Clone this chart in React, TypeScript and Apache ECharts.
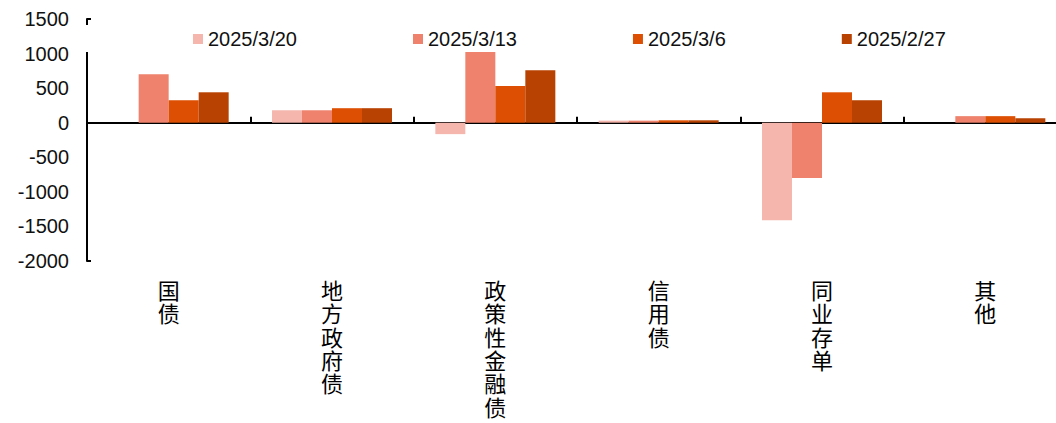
import React, { useEffect, useRef } from "react";
import * as echarts from "echarts";

const categories = ["国债", "地方政府债", "政策性金融债", "信用债", "同业存单", "其他"];
const seriesNames = ["2025/3/20", "2025/3/13", "2025/3/6", "2025/2/27"];
const s0320 = [0, 180, -165, 30, -1410, 0];
const s0313 = [700, 180, 1060, 30, -800, 95];
const s0306 = [325, 210, 530, 35, 440, 95];
const s0227 = [440, 210, 760, 35, 325, 65];
const seriesColors = ["#F4B6AD", "#EE826D", "#DD5003", "#B84202"];
const yTicks = [-2000, -1500, -1000, -500, 0, 500, 1000, 1500];

const FONT = '"Liberation Sans", Arial, "Noto Sans CJK SC", sans-serif';

export default function App() {
  const ref = useRef<HTMLDivElement>(null);
  useEffect(() => {
    if (!ref.current) return;
    const chart = echarts.init(ref.current, null, { renderer: "svg" });
    const data = [s0320, s0313, s0306, s0227];
    chart.setOption({
      animation: false,
      textStyle: { fontFamily: FONT },
      grid: { left: 87, right: -11, top: 19, bottom: 162, containLabel: false, outerBoundsMode: "none" },
      legend: {
        data: seriesNames,
        left: 82,
        top: 25,
        padding: [4, 60, 3, 111],
        backgroundColor: "#ffffff",
        itemWidth: 10,
        itemHeight: 10,
        itemGap: 116,
        icon: "rect",
        textStyle: { fontSize: 20, color: "#111", fontFamily: FONT, lineHeight: 20 },
        z: 10,
      },
      xAxis: {
        type: "category",
        data: categories,
        axisLine: { onZero: true, lineStyle: { color: "#000", width: 2 } },
        axisTick: { show: true, inside: true, length: 6, lineStyle: { color: "#000", width: 2 } },
        axisLabel: {
          margin: 19,
          fontSize: 22,
          lineHeight: 23.3,
          color: "#000",
          fontFamily: FONT,
          verticalAlign: "top",
          formatter: (v: string) => v.split("").join("\n"),
        },
      },
      yAxis: {
        type: "value",
        min: yTicks[0],
        max: yTicks[yTicks.length - 1],
        interval: 500,
        splitLine: { show: false },
        axisLine: { show: true, lineStyle: { color: "#000", width: 2 } },
        axisTick: {
          show: true,
          inside: true,
          length: 4,
          customValues: [yTicks[0], yTicks[yTicks.length - 1]],
          lineStyle: { color: "#000", width: 2 },
        },
        axisLabel: {
          margin: 18,
          fontSize: 20,
          color: "#111",
          fontFamily: FONT,
          formatter: (v: number) => String(v),
        },
      },
      series: seriesNames.map((name, i) => ({
        name,
        type: "bar",
        data: data[i],
        barWidth: 30,
        barGap: "0%",
        itemStyle: { color: seriesColors[i] },
      })),
    });
    return () => chart.dispose();
  }, []);
  return (
    <div style={{ position: "fixed", left: 0, top: 0, width: 1056, height: 423, overflow: "hidden", background: "#fff" }}>
      <div ref={ref} style={{ width: 1056, height: 423 }} />
    </div>
  );
}
